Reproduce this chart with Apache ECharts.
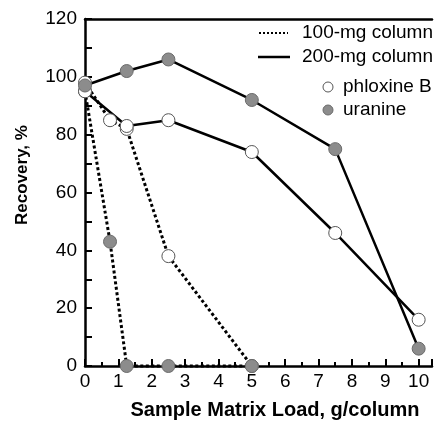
<!DOCTYPE html>
<html><head><meta charset="utf-8">
<script src="https://cdn.jsdelivr.net/npm/echarts@6/dist/echarts.min.js"></script>
<style>html,body{margin:0;padding:0;background:#fff}#c{width:435px;height:422px}</style>
</head><body><div id="c"></div>
<script>
const xTicks = [0,1,2,3,4,5,6,7,8,9,10];
const yTicks = [0,20,40,60,80,100,120];
const phloxine200 = [[0,95],[1.25,83],[2.5,85],[5,74],[7.5,46],[10,16]];
const uranine200  = [[0,97],[1.25,102],[2.5,106],[5,92],[7.5,75],[10,6]];
const phloxine100 = [[0,98],[0.75,85],[1.25,82],[2.5,38],[5,0]];
const uranine100  = [[0,95],[0.75,43],[1.25,0],[2.5,0],[5,0]];
const legendItems = ['100-mg column','200-mg column','phloxine B','uranine'];

const FONT = 'Liberation Sans, Arial, sans-serif';
const openSym = {color:'#fff', borderColor:'#555', borderWidth:1};
const graySym = {color:'#8c8c8c', borderColor:'#6a6a6a', borderWidth:1};
function mk(name, data, dotted, sym){
  return {name, type:'line', data, symbol:'circle', symbolSize:13, clip:false,
    lineStyle:{color:'#000', width: dotted ? 3 : 2.5, type: dotted ? [3,2.5] : 'solid'},
    itemStyle:sym, z: 3};
}
const chart = echarts.init(document.getElementById('c'));
chart.setOption({
  animation:false,
  grid:{left:85, right:0, top:19, bottom:56},
  xAxis:[{type:'value', min:0, max:10.4, interval:1,
    axisLine:{lineStyle:{color:'#000', width:2.5}},
    axisTick:{inside:true, length:7, lineStyle:{color:'#000', width:2}},
    minorTick:{show:true, splitNumber:2, length:4, lineStyle:{color:'#000', width:2}},
    splitLine:{show:false},
    axisLabel:{fontFamily:FONT, fontSize:19, color:'#000', margin:6,
      formatter:v => xTicks.includes(v) ? String(v) : ''}},
   {type:'value', position:'top', min:0, max:10.4,
    axisLine:{show:true, lineStyle:{color:'#000', width:2.5}},
    axisTick:{show:false}, axisLabel:{show:false}, splitLine:{show:false}}],
  yAxis:{type:'value', min:0, max:120, interval:20,
    axisLine:{show:true, lineStyle:{color:'#000', width:2.5}},
    axisTick:{show:true, inside:true, length:7, lineStyle:{color:'#000', width:2}},
    minorTick:{show:true, splitNumber:2, length:7, lineStyle:{color:'#000', width:2}},
    splitLine:{show:false},
    axisLabel:{fontFamily:FONT, fontSize:19, color:'#000', margin:8,
      formatter:v => yTicks.includes(v) ? String(v) : ''}},
  series:[
    mk('phloxine100', phloxine100, true, openSym),
    mk('uranine100', uranine100, true, graySym),
    mk('phloxine200', phloxine200, false, openSym),
    mk('uranine200', uranine200, false, graySym)
  ],
  graphic:[
    {type:'line', shape:{x1:259,y1:33,x2:288,y2:33}, style:{stroke:'#000', lineWidth:2, lineDash:[2,2]}},
    {type:'text', x:302, y:33, style:{text:legendItems[0], font:'19px '+FONT, fill:'#000', verticalAlign:'middle'}},
    {type:'line', shape:{x1:258,y1:57,x2:290,y2:57}, style:{stroke:'#000', lineWidth:2.5}},
    {type:'text', x:302, y:57, style:{text:legendItems[1], font:'19px '+FONT, fill:'#000', verticalAlign:'middle'}},
    {type:'circle', shape:{cx:328, cy:87, r:5}, style:{fill:'#fff', stroke:'#555', lineWidth:1}},
    {type:'text', x:343, y:87, style:{text:legendItems[2], font:'19px '+FONT, fill:'#000', verticalAlign:'middle'}},
    {type:'circle', shape:{cx:328, cy:110, r:5}, style:{fill:'#8c8c8c', stroke:'#6a6a6a', lineWidth:1}},
    {type:'text', x:343, y:110, style:{text:legendItems[3], font:'19px '+FONT, fill:'#000', verticalAlign:'middle'}},
    {type:'text', x:275, y:410, style:{text:'Sample Matrix Load, g/column', font:'bold 20px '+FONT, fill:'#000', align:'center', verticalAlign:'middle'}},
    {type:'text', x:22, y:175, rotation:Math.PI/2, style:{text:'Recovery, %', font:'bold 17px '+FONT, fill:'#000', align:'center', verticalAlign:'middle'}}
  ]
});
</script></body></html>
